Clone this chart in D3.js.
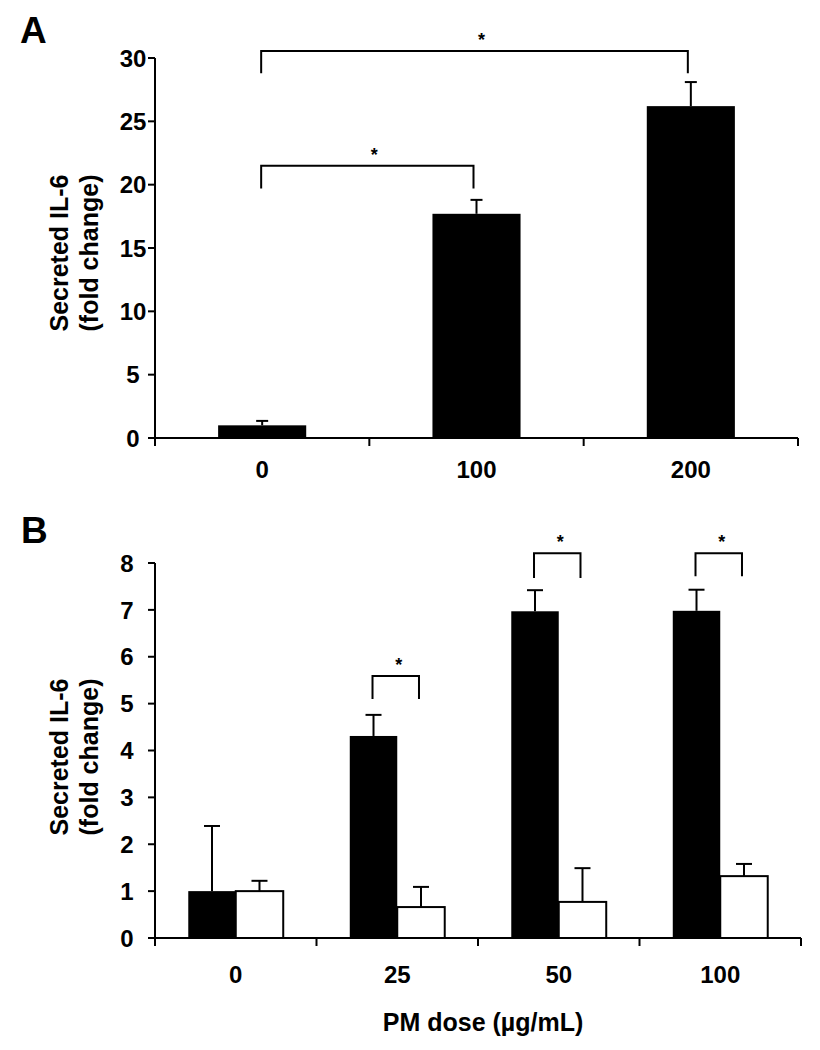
<!DOCTYPE html>
<html><head><meta charset="utf-8">
<script src="https://cdn.jsdelivr.net/npm/d3@7"></script>
<style>
body{margin:0;background:#fff}
text{font-family:"Liberation Sans",Arial,sans-serif;font-weight:bold;fill:#000}
</style>
</head><body>
<svg id="chart" width="820" height="1050" style="background:#fff"></svg>
<script>
// ---------- Panel A data ----------
const catsA = ["0", "100", "200"];
const valuesA = [1.0, 17.7, 26.2];
const errorsA = [0.35, 1.1, 1.9];
const ticksA = [0, 5, 10, 15, 20, 25, 30];
const bracketsA = [
  {from: "0", to: "100", y: 21.5, leg: 19.7},
  {from: "0", to: "200", y: 30.55, leg: 28.8}
];

// ---------- Panel B data ----------
const catsB = ["0", "25", "50", "100"];
const seriesB = ["black", "white"];
const blackB = [1.0, 4.31, 6.97, 6.98];
const blackErrB = [1.39, 0.45, 0.45, 0.45];
const whiteB = [1.0, 0.66, 0.77, 1.32];
const whiteErrB = [0.22, 0.43, 0.72, 0.26];
const ticksB = [0, 1, 2, 3, 4, 5, 6, 7, 8];
const bracketsB = [
  {cat: "25", y: 5.59, leg: 5.10},
  {cat: "50", y: 8.21, leg: 7.68},
  {cat: "100", y: 8.21, leg: 7.72}
];
const yTitle = ["Secreted IL-6", "(fold change)"];
const xTitleB = "PM dose (\u00B5g/mL)";

const svg = d3.select("#chart");
const SW = 2;

function drawAxes(g, x, y, ticks, labelX, labelDy) {
  const y0 = y(0);
  // y axis
  const ax = g.append("g").attr("transform", `translate(${x.range()[0]},0)`)
    .call(d3.axisLeft(y).tickValues(ticks).tickSize(7).tickSizeOuter(0).offset(0));
  ax.select(".domain").attr("stroke", "#000").attr("stroke-width", SW);
  ax.selectAll(".tick line").attr("stroke", "#000").attr("stroke-width", SW);
  ax.selectAll(".tick text").attr("x", labelX).attr("dy", "0.36em")
    .attr("text-anchor", "middle").style("font-size", "24px")
    .style("font-family", '"Liberation Sans",Arial,sans-serif').style("font-weight", "bold");
  // x axis line
  const [xl, xr] = x.range();
  g.append("line").attr("x1", xl - 7).attr("x2", xr).attr("y1", y0).attr("y2", y0)
    .attr("stroke", "#000").attr("stroke-width", SW);
  const bounds = [xl].concat(x.domain().map(d => x(d) + x.bandwidth()));
  g.selectAll(".xt").data(bounds).enter().append("line")
    .attr("x1", d => d).attr("x2", d => d).attr("y1", y0).attr("y2", y0 + 8)
    .attr("stroke", "#000").attr("stroke-width", SW);
  g.selectAll(".xl").data(x.domain()).enter().append("text")
    .attr("x", d => x(d) + x.bandwidth() / 2).attr("y", y0 + labelDy)
    .attr("text-anchor", "middle").style("font-size", "24px").text(d => d);
}

function drawYTitle(cy) {
  [68, 98].forEach((bx, i) => {
    svg.append("text").attr("transform", `translate(${bx},${cy}) rotate(-90)`)
      .attr("text-anchor", "middle").style("font-size", "25px").text(yTitle[i]);
  });
}

function errorBar(g, cx, yTop, yCap, cap) {
  g.append("line").attr("x1", cx).attr("x2", cx).attr("y1", yTop).attr("y2", yCap)
    .attr("stroke", "#000").attr("stroke-width", SW);
  g.append("line").attr("x1", cx - cap / 2).attr("x2", cx + cap / 2).attr("y1", yCap).attr("y2", yCap)
    .attr("stroke", "#000").attr("stroke-width", SW);
}

function bracket(g, x1, x2, yb, yl, starDx) {
  g.append("path").attr("d", `M${x1},${yl}V${yb}H${x2}V${yl}`)
    .attr("fill", "none").attr("stroke", "#000").attr("stroke-width", SW);
  g.append("text").attr("x", (x1 + x2) / 2 + starDx).attr("y", yb - 5)
    .attr("text-anchor", "middle").style("font-size", "18px").text("*");
}

// ================= Panel A =================
{
  const g = svg.append("g");
  const x = d3.scaleBand().domain(catsA).range([155, 798]).padding(0);
  const y = d3.scaleLinear().domain([0, 30]).range([438, 58]);
  const barW = x.bandwidth() * 0.411;
  const cx = d => x(d) + x.bandwidth() / 2;

  catsA.forEach((c, i) => {
    g.append("rect").attr("x", cx(c) - barW / 2).attr("y", y(valuesA[i]))
      .attr("width", barW).attr("height", y(0) - y(valuesA[i])).attr("fill", "#000");
    errorBar(g, cx(c), y(valuesA[i]), y(valuesA[i] + errorsA[i]), 12);
  });
  drawAxes(g, x, y, ticksA, -22, 40);
  bracketsA.forEach(b => bracket(g, cx(b.from) - 1, cx(b.to) - 3, y(b.y), y(b.leg), 7));

  svg.append("text").attr("x", 20).attr("y", 43).style("font-size", "37px").text("A");
  drawYTitle(253);
}

// ================= Panel B =================
{
  const g = svg.append("g");
  const x = d3.scaleBand().domain(catsB).range([155, 801]).padding(0);
  const y = d3.scaleLinear().domain([0, 8]).range([938, 563]);
  const groupW = x.bandwidth() * 0.588;
  const x1 = d3.scaleBand().domain(seriesB)
    .range([x.bandwidth() / 2 - groupW / 2, x.bandwidth() / 2 + groupW / 2]).padding(0);
  const vals = {black: blackB, white: whiteB};
  const errs = {black: blackErrB, white: whiteErrB};

  catsB.forEach((c, i) => {
    seriesB.forEach(s => {
      const v = vals[s][i];
      const bx = x(c) + x1(s);
      g.append("rect").attr("x", bx).attr("y", y(v))
        .attr("width", x1.bandwidth()).attr("height", y(0) - y(v))
        .attr("fill", s === "black" ? "#000" : "#fff")
        .attr("stroke", "#000").attr("stroke-width", s === "black" ? 0 : SW);
    });
  });
  catsB.forEach((c, i) => {
    seriesB.forEach(s => {
      const v = vals[s][i];
      const bcx = x(c) + x1(s) + x1.bandwidth() / 2;
      errorBar(g, bcx, y(v), y(v + errs[s][i]), 16);
    });
  });
  drawAxes(g, x, y, ticksB, -28, 45);
  bracketsB.forEach(b => {
    const xa = x(b.cat) + x1("black") + x1.bandwidth() / 2;
    const xb = x(b.cat) + x1("white") + x1.bandwidth() / 2;
    bracket(g, xa - 1, xb - 2, y(b.y), y(b.leg), 3);
  });

  svg.append("text").attr("x", 21).attr("y", 543).style("font-size", "37px").text("B");
  drawYTitle(757);
  svg.append("text").attr("x", 483).attr("y", 1031).attr("text-anchor", "middle")
    .style("font-size", "25px").text(xTitleB);
}
</script>
</body></html>
